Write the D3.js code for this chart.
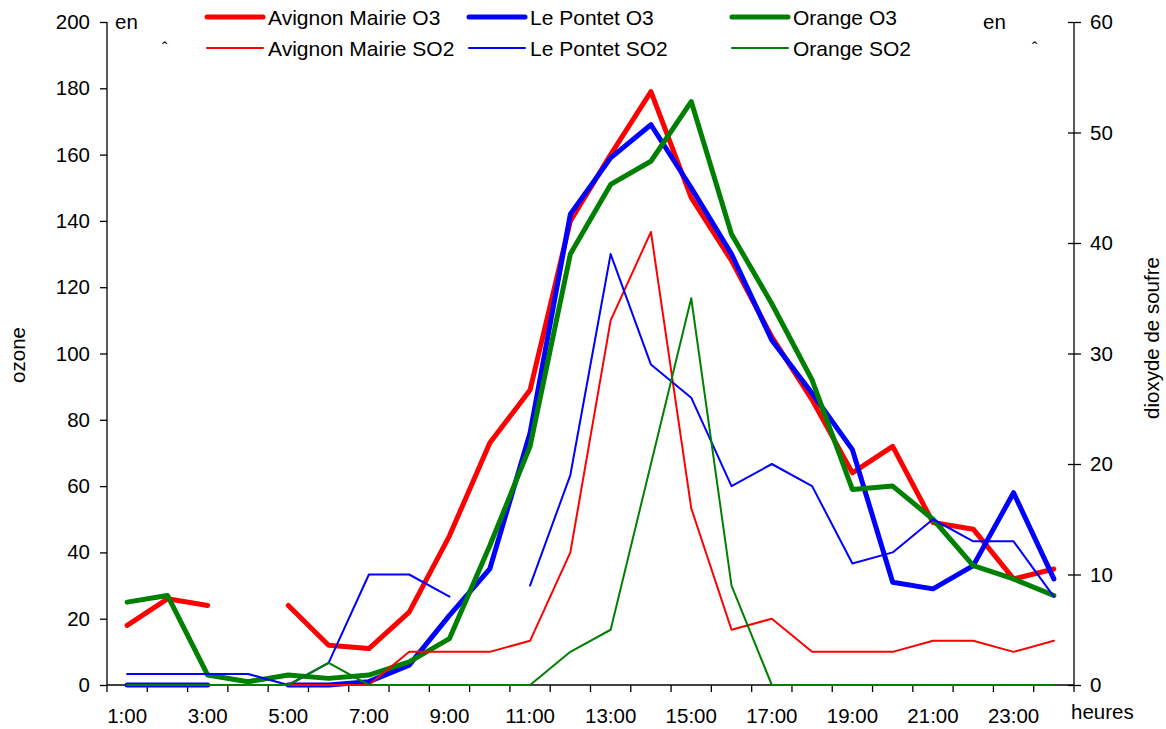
<!DOCTYPE html>
<html>
<head>
<meta charset="utf-8">
<script src="https://cdn.jsdelivr.net/npm/d3@7"></script>
<style>
  body { margin: 0; background: #fff; }
  text { font-family: "Liberation Sans", Arial, sans-serif; fill: #000; }
</style>
</head>
<body>
<div id="chart"></div>
<script>
// hours (category axis)
const hours = d3.range(1, 25).map(h => h + ":00");

// ozone (left axis)
const avignonO3 = [18, 26, 24, null, 24, 12, 11, 22, 45, 73, 89, 140, 160, 179, 147, 128, 105, 86, 64, 72, 49, 47, 32, 35];
const pontetO3  = [0, 0, 0, null, 0, 0, 1, 6, 21, 35, 76, 142, 159, 169, 150, 130, 104, 88, 71, 31, 29, 36, 58, 32];
const orangeO3  = [25, 27, 3, 1, 3, 2, 3, 7, 14, 42, 72, 130, 151, 158, 176, 136, 115, 92, 59, 60, 50, 36, 32, 27];

// dioxyde de soufre (right axis)
const avignonSO2 = [null, null, null, null, 0, 0, 0, 3, 3, 3, 4, 12, 33, 41, 16, 5, 6, 3, 3, 3, 4, 4, 3, 4];
const pontetSO2  = [1, 1, 1, 1, 0, 2, 10, 10, 8, null, 9, 19, 39, 29, 26, 18, 20, 18, 11, 12, 15, 13, 13, 8];
const orangeSO2  = [0, 0, 0, 0, 0, 2, 0, 0, 0, 0, 0, 3, 5, 20, 35, 9, 0, 0, 0, 0, 0, 0, 0, 0];

const ozoneTicks = [0, 20, 40, 60, 80, 100, 120, 140, 160, 180, 200];
const so2Ticks = [0, 10, 20, 30, 40, 50, 60];

const series = [
  {name: "Avignon Mairie O3", values: avignonO3, axis: "left", color: "#ff0000", w: 5},
  {name: "Le Pontet O3", values: pontetO3, axis: "left", color: "#0000ff", w: 5},
  {name: "Orange O3", values: orangeO3, axis: "left", color: "#008000", w: 5},
  {name: "Avignon Mairie SO2", values: avignonSO2, axis: "right", color: "#ff0000", w: 2},
  {name: "Le Pontet SO2", values: pontetSO2, axis: "right", color: "#0000ff", w: 2},
  {name: "Orange SO2", values: orangeSO2, axis: "right", color: "#008000", w: 2}
];

const W = 1166, H = 729;
const plot = {left: 107, right: 1074, top: 22, bottom: 685};

const svg = d3.select("#chart").append("svg")
    .attr("width", W)
    .attr("height", H);

svg.append("rect").attr("width", W).attr("height", H).attr("fill", "#fff");

const x = d3.scaleBand().domain(hours).range([plot.left, plot.right]);
const yL = d3.scaleLinear().domain([0, 200]).range([plot.bottom, plot.top]);
const yR = d3.scaleLinear().domain([0, 60]).range([plot.bottom, plot.top]);

const fontFam = "Liberation Sans, Arial, sans-serif";

// left axis
svg.append("g")
    .attr("transform", `translate(${plot.left},0)`)
    .style("font-size", "20.5px")
    .call(d3.axisLeft(yL).tickValues(ozoneTicks).tickSize(7).tickPadding(10))
    .call(g => g.selectAll("text").style("font-family", fontFam))
    .call(g => g.selectAll("path, line").attr("stroke", "#000").attr("stroke-width", 1.3))
    .call(g => g.select(".domain").attr("d", `M0,${plot.top}V${plot.bottom}`));

// right axis (ticks cross the line)
const gR = svg.append("g")
    .attr("transform", `translate(${plot.right},0)`)
    .style("font-size", "20.5px")
    .call(d3.axisRight(yR).tickValues(so2Ticks).tickSize(7).tickPadding(9))
    .call(g => g.selectAll("text").style("font-family", fontFam))
    .call(g => g.selectAll("path, line").attr("stroke", "#000").attr("stroke-width", 1.3))
    .call(g => g.select(".domain").attr("d", `M0,${plot.top}V${plot.bottom}`));
gR.selectAll(".tick line").attr("x1", -6);

// x axis: labels every other hour, ticks between categories
svg.append("g")
    .attr("transform", `translate(0,${plot.bottom})`)
    .style("font-size", "20.5px")
    .call(d3.axisBottom(x).tickSize(0).tickPadding(23)
        .tickFormat((d, i) => i % 2 === 0 ? d : ""))
    .call(g => g.selectAll("text").style("font-family", fontFam))
    .call(g => g.select(".domain").attr("d", `M${plot.left},0H${plot.right}`)
        .attr("stroke", "#000").attr("stroke-width", 1.3));

svg.append("g")
    .selectAll("line")
    .data(hours.concat([null]))
    .join("line")
    .attr("x1", (d, i) => plot.left + i * x.step())
    .attr("x2", (d, i) => plot.left + i * x.step())
    .attr("y1", plot.bottom)
    .attr("y2", plot.bottom + 7)
    .attr("stroke", "#000")
    .attr("stroke-width", 1.3);

// lines
series.forEach(s => {
  const y = s.axis === "left" ? yL : yR;
  const line = d3.line()
      .defined(d => d != null)
      .x((d, i) => x(hours[i]) + x.bandwidth() / 2)
      .y(d => y(d));
  svg.append("path")
      .datum(s.values)
      .attr("fill", "none")
      .attr("stroke", s.color)
      .attr("stroke-width", s.w)
      .attr("stroke-linejoin", "round")
      .attr("stroke-linecap", "round")
      .attr("d", line);
});

// legend
const legendX = [207, 469, 732];
const legendY = [17, 48];
series.forEach((s, i) => {
  const col = i % 3, row = Math.floor(i / 3);
  const g = svg.append("g").attr("transform", `translate(${legendX[col]},${legendY[row]})`);
  g.append("line")
      .attr("x1", 0).attr("x2", 56)
      .attr("stroke", s.color)
      .attr("stroke-width", s.w)
      .attr("stroke-linecap", "round");
  g.append("text")
      .attr("x", 61)
      .attr("dy", "0.36em")
      .style("font-size", "21px")
      .text(s.name);
});

// stray unit labels
svg.append("text").attr("x", 115).attr("y", 29).style("font-size", "20.5px").text("en");
svg.append("text").attr("x", 983).attr("y", 29).style("font-size", "20.5px").text("en");
svg.append("text").attr("x", 162).attr("y", 54).style("font-size", "16px").text("ˆ");
svg.append("text").attr("x", 1032).attr("y", 54).style("font-size", "16px").text("ˆ");

// axis titles
svg.append("text")
    .attr("transform", "translate(25,355) rotate(-90)")
    .attr("text-anchor", "middle")
    .style("font-size", "20.5px")
    .text("ozone");

svg.append("text")
    .attr("transform", "translate(1159,338) rotate(-90)")
    .attr("text-anchor", "middle")
    .style("font-size", "20.5px")
    .text("dioxyde de soufre");

svg.append("text")
    .attr("x", 1071)
    .attr("y", 719)
    .style("font-size", "20.5px")
    .text("heures");
</script>
</body>
</html>
